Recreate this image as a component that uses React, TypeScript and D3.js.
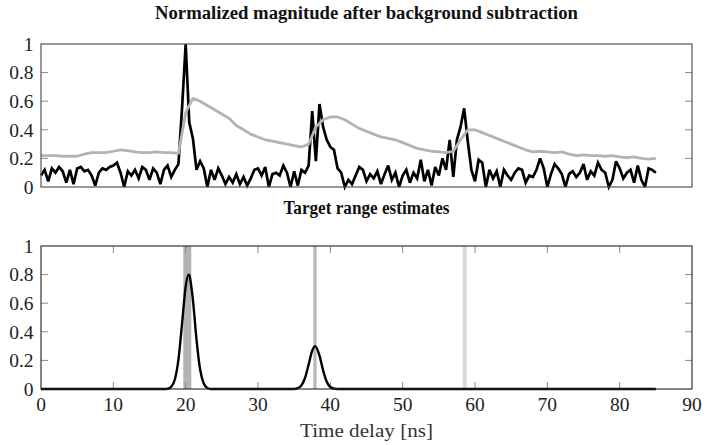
import React from "react";
import * as d3 from "d3";

const STEP = 0.5;
const magnitude: number[] = [
  0.08, 0.12, 0.04, 0.13, 0.10, 0.14, 0.11, 0.03, 0.12, 0.02,
  0.13, 0.14, 0.11, 0.12, 0.08, 0.01, 0.10, 0.13, 0.12, 0.14,
  0.15, 0.17, 0.10, 0.00, 0.11, 0.08, 0.12, 0.06, 0.14, 0.12,
  0.05, 0.13, 0.10, 0.02, 0.12, 0.15, 0.07, 0.12, 0.16, 0.55,
  1.00, 0.45, 0.34, 0.12, 0.18, 0.13, 0.00, 0.12, 0.05, 0.13,
  0.08, 0.02, 0.07, 0.03, 0.09, 0.02, 0.07, 0.01, 0.06, 0.12,
  0.13, 0.08, 0.14, 0.00, 0.09, 0.10, 0.08, 0.15, 0.10, 0.00,
  0.11, 0.01, 0.12, 0.10, 0.15, 0.53, 0.18, 0.58, 0.42, 0.33,
  0.28, 0.26, 0.13, 0.10, 0.00, 0.05, 0.02, 0.08, 0.14, 0.12,
  0.04, 0.09, 0.06, 0.11, 0.02, 0.09, 0.15, 0.05, 0.10, 0.00,
  0.08, 0.12, 0.03, 0.10, 0.06, 0.19, 0.04, 0.12, 0.01, 0.14,
  0.08, 0.20, 0.12, 0.33, 0.07, 0.33, 0.42, 0.55, 0.32, 0.12,
  0.04, 0.19, 0.17, 0.00, 0.12, 0.06, 0.11, 0.00, 0.12, 0.08,
  0.05, 0.10, 0.13, 0.12, 0.03, 0.08, 0.07, 0.12, 0.20, 0.13,
  0.00, 0.09, 0.16, 0.13, 0.09, 0.00, 0.09, 0.11, 0.07, 0.10,
  0.16, 0.05, 0.11, 0.08, 0.17, 0.12, 0.10, 0.00, 0.05, 0.18,
  0.13, 0.06, 0.10, 0.12, 0.03, 0.15, 0.05, 0.00, 0.13, 0.12,
  0.10,
];

const background: number[] = [
  0.22, 0.22, 0.22, 0.215, 0.215, 0.215, 0.23, 0.24, 0.24, 0.24,
  0.25, 0.26, 0.255, 0.245, 0.24, 0.24, 0.245, 0.24, 0.24, 0.235,
  0.52, 0.62, 0.60, 0.57, 0.54, 0.51, 0.48, 0.43, 0.40, 0.37,
  0.35, 0.33, 0.32, 0.31, 0.30, 0.29, 0.28, 0.30, 0.42, 0.47,
  0.49, 0.49, 0.47, 0.44, 0.41, 0.39, 0.37, 0.35, 0.34, 0.33,
  0.31, 0.29, 0.27, 0.26, 0.25, 0.245, 0.24, 0.25, 0.33, 0.40,
  0.40, 0.38, 0.36, 0.34, 0.32, 0.30, 0.28, 0.26, 0.245, 0.25,
  0.245, 0.24, 0.245, 0.23, 0.22, 0.225, 0.22, 0.22, 0.215, 0.22,
  0.21, 0.205, 0.21, 0.20, 0.195, 0.20,
];

const estTimes: number[] = [
  0, 17, 17.5, 18, 18.5, 19, 19.5, 20, 20.4, 20.5, 21, 21.5, 22, 22.5, 23, 23.5,
  35, 35.5, 36, 36.5, 37, 37.5, 37.9, 38.5, 39, 39.5, 40, 40.5, 41, 85,
];
const estValues: number[] = [
  0, 0, 0.002, 0.015, 0.066, 0.206, 0.457, 0.716, 0.8, 0.795, 0.624, 0.346, 0.136, 0.038, 0.007, 0,
  0, 0.006, 0.025, 0.077, 0.171, 0.269, 0.3, 0.234, 0.13, 0.051, 0.014, 0.003, 0, 0,
];

const bandLo: number[] = [19.67, 37.65, 58.3];
const bandHi: number[] = [20.78, 38.1, 58.85];
const bandColor: string[] = ["#b3b3b3", "#b8b8b8", "#d9d9d9"];

const yTicks: number[] = [0, 0.2, 0.4, 0.6, 0.8, 1];
const xTicks: number[] = [0, 10, 20, 30, 40, 50, 60, 70, 80, 90];

const FONT = "'Liberation Serif', 'Times New Roman', serif";

export default function App() {
  const x = d3.scaleLinear().domain([0, 90]).range([41, 692]);
  const yTop = d3.scaleLinear().domain([0, 1]).range([187, 44]);
  const yBot = d3.scaleLinear().domain([0, 1]).range([389, 246]);

  const magLine = d3
    .line<number>()
    .x((_, i) => x(i * STEP))
    .y((d) => yTop(d))(magnitude) as string;
  const bgLine = d3
    .line<number>()
    .x((_, i) => x(i))
    .y((d) => yTop(d))(background) as string;
  const estLine = d3
    .line<number>()
    .curve(d3.curveMonotoneX)
    .x((_, i) => x(estTimes[i]))
    .y((d) => yBot(d))(estValues) as string;

  const fmt = (v: number) => (v === 0 ? "0" : v === 1 ? "1" : String(v));
  const x0 = x(0);
  const x1 = x(90);
  const tickLen = 7;

  const yAxisTicks = (y: d3.ScaleLinear<number, number>, keyp: string) =>
    yTicks.map((t) => (
      <g key={keyp + t}>
        {t > 0 && t < 1 && (
          <>
            <line x1={x0} x2={x0 + tickLen} y1={y(t)} y2={y(t)} stroke="#8a8a8a" strokeWidth={1} />
            <line x1={x1} x2={x1 - tickLen} y1={y(t)} y2={y(t)} stroke="#8a8a8a" strokeWidth={1} />
          </>
        )}
        <text x={33.5} y={y(t)} dy="0.35em" textAnchor="end" fontSize={19.5} fontFamily={FONT} fill="#222">
          {fmt(t)}
        </text>
      </g>
    ));

  return (
    <svg
      width={707}
      height={445}
      style={{ position: "absolute", left: 0, top: 0, background: "#fff" }}
    >
      {/* Top panel */}
      <text
        x={366.5}
        y={19}
        textAnchor="middle"
        fontSize={18.5}
        fontWeight="bold"
        fontFamily={FONT}
        fill="#111"
        textLength={423}
        lengthAdjust="spacingAndGlyphs"
      >
        Normalized magnitude after background subtraction
      </text>
      {yAxisTicks(yTop, "top")}
      <path d={magLine} fill="none" stroke="#000" strokeWidth={2.7} strokeLinejoin="miter" strokeMiterlimit={3} />
      <path d={bgLine} fill="none" stroke="#b3b3b3" strokeWidth={2.8} strokeLinejoin="round" />
      <rect x={x0} y={yTop(1)} width={x1 - x0} height={yTop(0) - yTop(1)} fill="none" stroke="#555" strokeWidth={1.2} />

      {/* Bottom panel */}
      <text
        x={366.5}
        y={214}
        textAnchor="middle"
        fontSize={18.5}
        fontWeight="bold"
        fontFamily={FONT}
        fill="#111"
        textLength={166}
        lengthAdjust="spacingAndGlyphs"
      >
        Target range estimates
      </text>
      {bandLo.map((lo, i) => (
        <rect
          key={"band" + i}
          x={x(lo)}
          y={yBot(1)}
          width={x(bandHi[i]) - x(lo)}
          height={yBot(0) - yBot(1)}
          fill={bandColor[i]}
        />
      ))}
      {yAxisTicks(yBot, "bot")}
      {xTicks.map((t) => (
        <g key={"xt" + t}>
          {t > 0 && t < 90 && (
            <>
              <line x1={x(t)} x2={x(t)} y1={yBot(0)} y2={yBot(0) - tickLen} stroke="#8a8a8a" strokeWidth={1} />
              <line x1={x(t)} x2={x(t)} y1={yBot(1)} y2={yBot(1) + tickLen} stroke="#8a8a8a" strokeWidth={1} />
            </>
          )}
          <text x={x(t)} y={411} textAnchor="middle" fontSize={19.5} fontFamily={FONT} fill="#222">
            {t}
          </text>
        </g>
      ))}
      <path d={estLine} fill="none" stroke="#000" strokeWidth={2.4} />
      <rect x={x0} y={yBot(1)} width={x1 - x0} height={yBot(0) - yBot(1)} fill="none" stroke="#222" strokeWidth={1.1} />
      <text
        x={366.5}
        y={437}
        textAnchor="middle"
        fontSize={19}
        fontFamily={FONT}
        fill="#333"
        textLength={133}
        lengthAdjust="spacingAndGlyphs"
      >
        Time delay [ns]
      </text>
    </svg>
  );
}
